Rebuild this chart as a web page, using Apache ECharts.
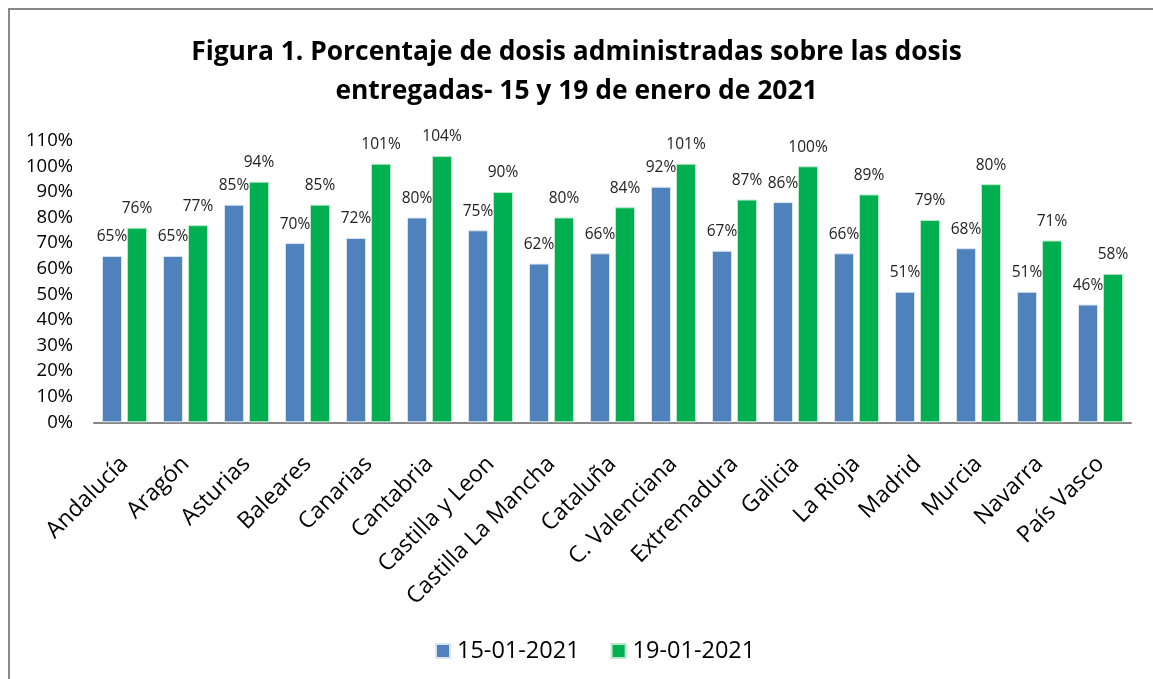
<!DOCTYPE html>
<html>
<head>
<meta charset="utf-8">
<script src="https://cdn.jsdelivr.net/npm/echarts@6/dist/echarts.min.js"></script>
<style>html,body{margin:0;padding:0;background:#fff}#c{width:1153px;height:679px}</style>
</head>
<body>
<div id="c"></div>
<script>
const categories = ["Andalucía","Aragón","Asturias","Baleares","Canarias","Cantabria","Castilla y Leon","Castilla La Mancha","Cataluña","C. Valenciana","Extremadura","Galicia","La Rioja","Madrid","Murcia","Navarra","País Vasco"];
const seriesNames = ["15-01-2021","19-01-2021"];
const values15 = [65,65,85,70,72,80,75,62,66,92,67,86,66,51,68,51,46];
const values19 = [76,77,94,85,101,104,90,80,84,101,87,100,89,79,93,71,58];
const labels15 = ["65%","65%","85%","70%","72%","80%","75%","62%","66%","92%","67%","86%","66%","51%","68%","51%","46%"];
const labels19 = ["76%","77%","94%","85%","101%","104%","90%","80%","84%","101%","87%","100%","89%","79%","80%","71%","58%"];
const titleText = "Figura 1. Porcentaje de dosis administradas sobre las dosis\nentregadas- 15 y 19 de enero de 2021";

const FONT = "Open Sans";
const chart = echarts.init(document.getElementById('c'), null, {renderer:'canvas'});
function lbl(arr){
  return {show:true, position:'top', distance:11, fontFamily:FONT, fontSize:15.5, color:'#222',
          formatter:p=>arr[p.dataIndex]};
}
chart.setOption({
  backgroundColor:'#fff',
  animation:false,
  graphic:[{type:'rect', shape:{x:9,y:9,width:1300,height:800}, style:{fill:'none', stroke:'#888', lineWidth:2}, silent:true}],
  title:{text:titleText, left:'center', top:28, textStyle:{fontFamily:FONT, fontWeight:'bold', fontSize:26.4, lineHeight:39, color:'#000'}},
  legend:{top:634, left:430, itemWidth:14, itemHeight:14, itemGap:31, icon:'rect',
          textStyle:{fontFamily:FONT, fontSize:23.5, color:'#000', padding:[0,0,0,2]}, data:seriesNames},
  grid:{left:94, right:22, top:140.7, bottom:256.7, containLabel:false},
  xAxis:{type:'category', data:categories,
         axisLine:{lineStyle:{color:'#868686', width:2}}, axisTick:{show:false},
         axisLabel:{rotate:45, interval:0, margin:38, fontFamily:FONT, fontSize:23, color:'#000'}},
  yAxis:{type:'value', min:0, max:110, interval:10,
         axisLine:{show:false}, axisTick:{show:false}, splitLine:{show:false},
         axisLabel:{formatter:'{value}%', margin:21, fontFamily:FONT, fontSize:18.5, color:'#000'}},
  series:[
    {name:seriesNames[0], type:'bar', data:values15, barWidth:20, barGap:'25%',
     itemStyle:{color:'#4F81BD', borderColor:'#D8E4F0', borderWidth:1}, label:lbl(labels15)},
    {name:seriesNames[1], type:'bar', data:values19, barWidth:20,
     itemStyle:{color:'#00B050', borderColor:'#B8E8C8', borderWidth:1}, label:lbl(labels19)}
  ]
});
</script>
</body>
</html>
